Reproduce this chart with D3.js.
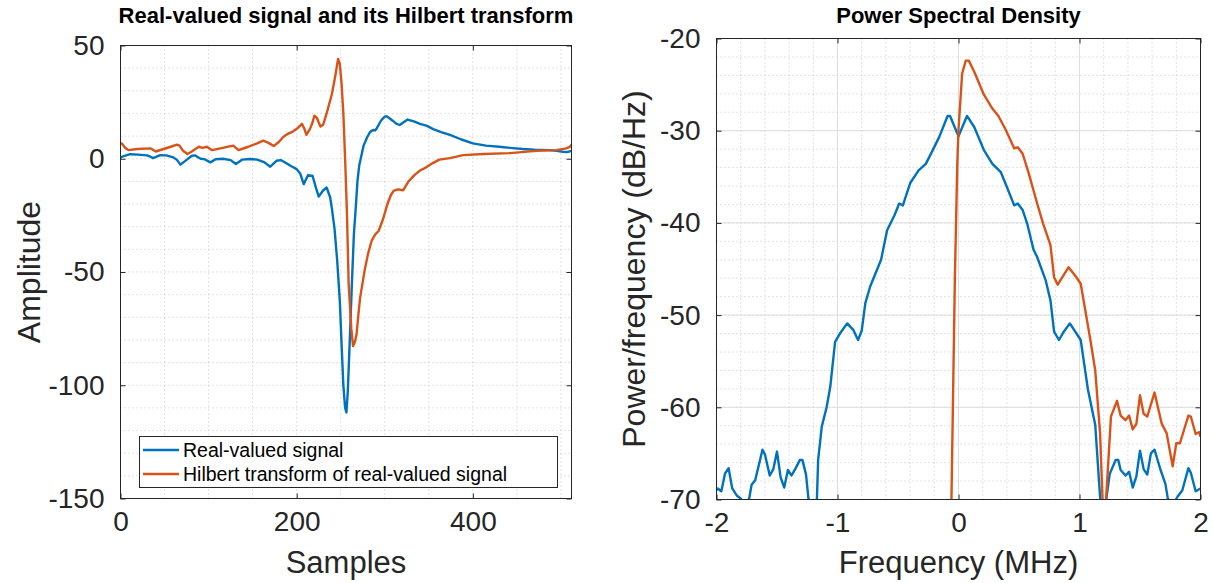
<!DOCTYPE html>
<html>
<head>
<meta charset="utf-8">
<script src="https://cdn.jsdelivr.net/npm/d3@7"></script>
<style>
  body { margin: 0; background: #fff; }
  text { font-family: "Liberation Sans", Arial, Helvetica, sans-serif; fill: #262626; }
</style>
</head>
<body>
<svg id="fig" width="1214" height="583"></svg>
<script>
// ---- data ----

// left panel: real-valued signal (sample index, amplitude)
var realSamples = [0,2,11,20,30,34,37,45,52,60,64,68,75,81,85,87,91,96,102,108,116,125,131,138,147,155,163,170,177,182,185,193,200,204,208,213,216,218,222,225,230,234,238,240,243,246,249,251,253,255,256.5,258,260.5,263,265,267,269,271,276,280,283,285,287,289,291,296,300,302,305,309,313,317,321,326,333,340,348,355,364,374,387,400,415,430,445,457,470,487,495,502,508,512];
var realValues  = [0.5,0.9,2,1.8,1.5,0.9,0.3,1.6,1.5,0.6,-0.5,-2.6,-0.5,1.3,1.5,0.9,0,-0.3,-1.6,-0.2,0,-0.6,-2.3,-0.4,-0.1,-0.4,-1.5,-3.5,-0.9,-0.6,-1.2,-3.1,-4.6,-6.5,-11.2,-7.2,-7.5,-7.5,-13,-16.7,-14,-12.7,-17,-22,-31,-45,-63,-82,-100,-110,-112,-103,-78,-52,-33,-22,-10,-3,5.8,9.5,11.6,12.3,12.7,12.5,13.5,17,18.6,18.8,18,16.8,15.5,14.9,16,17.3,16.5,15.4,14.5,13.1,11.8,10.5,8.5,6.8,5.8,5.3,4.7,4.3,4,3.8,3.5,3.1,3,3.5];

// left panel: Hilbert transform
var hilbSamples = [0,2,5,9,19,34,40,48,57,64,67,71,76,80,86,89,93,98,104,116,128,134,145,155,162,168,174,180,185,190,196,201,206,209,211,215,218,220,223,225,227,230,234,240,244,247,249,251,253,255,257,259,262,264,266,268,270,272,277,281,285,289,293,298,303,307,310,315,321,327,334,340,347,355,362,374,389,412,442,472,495,506,510,512];
var hilbValues  = [7,6.5,5,3.8,4.3,4.6,3.2,4.2,5.3,6.2,5.8,3.5,2.1,3,4.5,5.3,4.8,5.3,3.8,4.8,5.8,3.8,5.3,6.8,8,7,5.6,7.5,9.7,11,12.1,13.5,15.4,13,10.6,13.1,16,19,18,16,14.2,15,20,28.6,37,44.1,41.9,33,19.9,0,-23,-55,-75,-82.7,-81,-77.4,-69,-61.4,-49.6,-42,-36.3,-33.5,-31.9,-26.7,-20,-16,-14.2,-13.5,-13.9,-10,-7.1,-5.2,-3.8,-1.8,-0.4,0.3,1.6,2.1,2.5,3.5,3.8,4.6,5.2,6.2];

// right panel: PSD of real-valued signal (MHz, dB/Hz)
var psdRealFreq = [-2,-1.99,-1.96,-1.93,-1.9,-1.87,-1.83,-1.8,-1.77,-1.73,-1.71,-1.68,-1.62,-1.6,-1.56,-1.53,-1.5,-1.47,-1.44,-1.41,-1.38,-1.35,-1.31,-1.29,-1.26,-1.24,-1.21,-1.17,-1.16,-1.13,-1.09,-1.06,-1.02,-0.98,-0.92,-0.87,-0.83,-0.8,-0.77,-0.73,-0.64,-0.59,-0.53,-0.49,-0.46,-0.4,-0.33,-0.27,-0.22,-0.16,-0.09,-0.07,0,0.07,0.13,0.21,0.28,0.35,0.4,0.46,0.49,0.53,0.57,0.62,0.65,0.72,0.76,0.79,0.83,0.87,0.92,1.01,1.07,1.13,1.17,1.2,1.25,1.3,1.32,1.34,1.38,1.41,1.44,1.47,1.5,1.53,1.56,1.59,1.62,1.67,1.71,1.73,1.77,1.81,1.85,1.9,1.92,1.96,2];
var psdRealDb   = [-69,-68.8,-69.1,-67.2,-66.6,-68.8,-69.6,-69.9,-70.6,-69.9,-68.4,-67.9,-64.6,-65.1,-67.4,-66.7,-64.8,-67.6,-68.7,-66.8,-67.4,-66.7,-65.7,-65.7,-67.3,-69.9,-72,-69.9,-65.7,-62.1,-60,-57.8,-52.9,-52,-50.9,-51.6,-52.7,-51.7,-48.7,-46.9,-44,-40.8,-39.2,-37.9,-38.1,-35.7,-34.3,-33.6,-32.3,-30.7,-28.4,-28.4,-30.6,-28.4,-29.6,-32.1,-33.6,-34.5,-36.1,-38.1,-37.9,-38.6,-40.2,-42.9,-43.7,-46.2,-48.4,-51.8,-52.7,-51.8,-50.9,-52.7,-58.1,-61.9,-69.7,-72,-67.2,-65.7,-65.7,-66.8,-67.4,-67,-68.7,-67.5,-64.7,-66.7,-67.3,-65,-64.6,-66.8,-68.3,-69.9,-70.6,-69.7,-69,-66.6,-67.1,-69.1,-68.8];

// right panel: PSD of Hilbert transform
var psdHilbFreq = [-0.07,-0.03,-0.01,0,0.03,0.06,0.085,0.13,0.21,0.28,0.33,0.39,0.46,0.49,0.53,0.58,0.65,0.7,0.76,0.79,0.82,0.91,0.98,1.01,1.09,1.13,1.17,1.19,1.21,1.22,1.26,1.31,1.34,1.38,1.41,1.44,1.47,1.5,1.53,1.56,1.62,1.68,1.72,1.77,1.8,1.83,1.9,1.92,1.96,1.99,2];
var psdHilbDb   = [-80,-46,-33.6,-29.9,-23.8,-22.4,-22.4,-23.6,-26.1,-27.6,-28.4,-29.9,-31.9,-31.8,-32.5,-34.6,-37.9,-40.1,-42.4,-45.9,-46.7,-44.8,-46,-46.6,-52.7,-56,-62.8,-69.9,-72,-69.9,-61,-59.3,-60.9,-61.4,-60.9,-62.4,-61.8,-58.7,-60.7,-61,-58.4,-61.8,-62.8,-66.4,-63.9,-63.9,-60.9,-61,-62.9,-62.7,-63.2];

var sampleTicks = [0, 200, 400];
var ampTicks = [-150, -100, -50, 0, 50];
var freqTicks = [-2, -1, 0, 1, 2];
var dbTicks = [-70, -60, -50, -40, -30, -20];

var legendLabels = ["Real-valued signal", "Hilbert transform of real-valued signal"];

var blue = "#0072BD", orange = "#D95319";

// ---- drawing ----
var svg = d3.select("#fig");

function toPoints(xs, ys) {
  return xs.map(function (x, i) { return [x, ys[i]]; });
}

function range(a, b, step) {
  var out = [];
  for (var v = a; v <= b + 1e-9; v += step) out.push(+v.toFixed(6));
  return out;
}

// plain hyphen-minus labels like the original
function plain(d) { return String(d); }

function panel(cfg) {
  var g = svg.append("g");
  var x = d3.scaleLinear().domain(cfg.xDomain).range([cfg.left, cfg.right]);
  var y = d3.scaleLinear().domain(cfg.yDomain).range([cfg.bottom, cfg.top]);

  // minor grid (dotted)
  range(cfg.xDomain[0], cfg.xDomain[1], cfg.xMinor).forEach(function (v) {
    g.append("line").attr("x1", x(v)).attr("x2", x(v)).attr("y1", cfg.top).attr("y2", cfg.bottom)
      .attr("stroke", "#c4c4c4").attr("stroke-width", 1).attr("stroke-dasharray", "1,3");
  });
  range(cfg.yDomain[0], cfg.yDomain[1], cfg.yMinor).forEach(function (v) {
    g.append("line").attr("x1", cfg.left).attr("x2", cfg.right).attr("y1", y(v)).attr("y2", y(v))
      .attr("stroke", "#c4c4c4").attr("stroke-width", 1).attr("stroke-dasharray", "1,3");
  });

  // major grid (solid) only where asked
  if (cfg.majorGrid) {
    cfg.xTicks.forEach(function (v) {
      g.append("line").attr("x1", x(v)).attr("x2", x(v)).attr("y1", cfg.top).attr("y2", cfg.bottom)
        .attr("stroke", "#dedede").attr("stroke-width", 1);
    });
    cfg.yTicks.forEach(function (v) {
      g.append("line").attr("x1", cfg.left).attr("x2", cfg.right).attr("y1", y(v)).attr("y2", y(v))
        .attr("stroke", "#dedede").attr("stroke-width", 1);
    });
  }

  // series, clipped to the axes box
  var clipId = "clip" + cfg.id;
  svg.append("clipPath").attr("id", clipId).append("rect")
    .attr("x", cfg.left).attr("y", cfg.top)
    .attr("width", cfg.right - cfg.left).attr("height", cfg.bottom - cfg.top);
  var line = d3.line().x(function (d) { return x(d[0]); }).y(function (d) { return y(d[1]); });
  cfg.series.forEach(function (s) {
    g.append("path").attr("clip-path", "url(#" + clipId + ")")
      .datum(s.points).attr("d", line)
      .attr("fill", "none").attr("stroke", s.color).attr("stroke-width", 2.4)
      .attr("stroke-linejoin", "round");
  });

  // axes with inward ticks on all four sides
  var tk = 5;
  g.append("g").attr("transform", "translate(0," + cfg.bottom + ")")
    .call(d3.axisBottom(x).tickValues(cfg.xTicks).tickFormat(plain).tickSizeInner(-tk).tickSizeOuter(0).tickPadding(13));
  g.append("g").attr("transform", "translate(0," + cfg.top + ")")
    .call(d3.axisTop(x).tickValues(cfg.xTicks).tickSizeInner(-tk).tickSizeOuter(0).tickFormat(""));
  g.append("g").attr("transform", "translate(" + cfg.left + ",0)")
    .call(d3.axisLeft(y).tickValues(cfg.yTicks).tickFormat(plain).tickSizeInner(-tk).tickSizeOuter(0).tickPadding(16));
  g.append("g").attr("transform", "translate(" + cfg.right + ",0)")
    .call(d3.axisRight(y).tickValues(cfg.yTicks).tickSizeInner(-tk).tickSizeOuter(0).tickFormat(""));

  g.selectAll(".tick line").attr("stroke", "#262626");
  g.selectAll(".domain").remove();
  g.selectAll(".tick text").attr("font-size", 28).attr("font-family", null).style("fill", "#262626");

  g.append("rect").attr("x", cfg.left).attr("y", cfg.top)
    .attr("width", cfg.right - cfg.left).attr("height", cfg.bottom - cfg.top)
    .attr("fill", "none").attr("stroke", "#262626").attr("stroke-width", 1);

  // title and labels
  var cx = (cfg.left + cfg.right) / 2, cy = (cfg.top + cfg.bottom) / 2;
  g.append("text").attr("x", cx).attr("y", 23).attr("text-anchor", "middle")
    .attr("font-size", 22).attr("font-weight", "bold").style("fill", "#000").text(cfg.title);
  g.append("text").attr("x", cx).attr("y", 573).attr("text-anchor", "middle")
    .attr("font-size", 31).text(cfg.xLabel);
  g.append("text").attr("transform", "translate(" + cfg.yLabelX + "," + cy + ") rotate(-90)")
    .attr("text-anchor", "middle").attr("font-size", 32).text(cfg.yLabel);

  return { g: g, x: x, y: y };
}

panel({
  id: "L", left: 120.5, right: 571.5, top: 45.5, bottom: 498.5,
  xDomain: [0, 512], yDomain: [-150, 50],
  xTicks: sampleTicks, yTicks: ampTicks, xMinor: 50, yMinor: 10, majorGrid: false,
  title: "Real-valued signal and its Hilbert transform",
  xLabel: "Samples", yLabel: "Amplitude", yLabelX: 40,
  series: [
    { points: toPoints(realSamples, realValues), color: blue },
    { points: toPoints(hilbSamples, hilbValues), color: orange }
  ]
});

panel({
  id: "R", left: 716.5, right: 1200.5, top: 38.5, bottom: 499.5,
  xDomain: [-2, 2], yDomain: [-70, -20],
  xTicks: freqTicks, yTicks: dbTicks, xMinor: 0.2, yMinor: 2, majorGrid: true,
  title: "Power Spectral Density",
  xLabel: "Frequency (MHz)", yLabel: "Power/frequency (dB/Hz)", yLabelX: 645,
  series: [
    { points: toPoints(psdRealFreq, psdRealDb), color: blue },
    { points: toPoints(psdHilbFreq, psdHilbDb), color: orange }
  ]
});

// legend in the lower part of the left panel
var lg = svg.append("g");
lg.append("rect").attr("x", 139.5).attr("y", 436.5).attr("width", 418).attr("height", 51)
  .attr("fill", "#fff").attr("stroke", "#262626").attr("stroke-width", 1);
legendLabels.forEach(function (label, i) {
  var yy = 450 + i * 24;
  lg.append("line").attr("x1", 143).attr("x2", 179).attr("y1", yy).attr("y2", yy)
    .attr("stroke", i === 0 ? blue : orange).attr("stroke-width", 2.4);
  lg.append("text").attr("x", 183).attr("y", yy + 7).attr("font-size", 19.5).style("fill", "#000").text(label);
});
</script>
</body>
</html>
